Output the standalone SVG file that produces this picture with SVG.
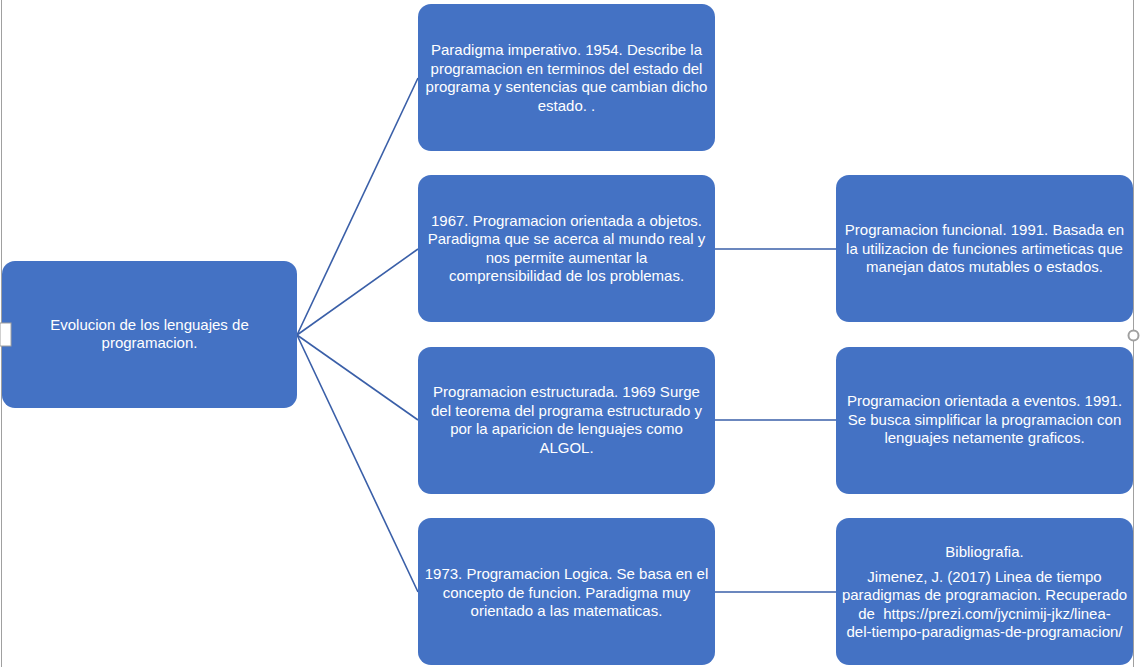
<svg xmlns="http://www.w3.org/2000/svg" width="1141" height="667" viewBox="0 0 1141 667">
<style>
.box{fill:#4472C4;}
.t{font-family:"Liberation Sans",Arial,sans-serif;font-size:15px;fill:#ffffff;text-anchor:middle;}
.c{stroke:#3A5FA8;stroke-width:1.6;fill:none;}
.frame{stroke:#A0A0A0;stroke-width:1;fill:none;}
</style>
<rect width="1141" height="667" fill="#ffffff"/>
<line class="frame" x1="1.5" y1="0" x2="1.5" y2="667"/>
<line class="frame" x1="1133.5" y1="0" x2="1133.5" y2="667"/>
<g id="connectors">
<line class="c" x1="297" y1="335" x2="418" y2="78"/>
<line class="c" x1="297" y1="335" x2="418" y2="249"/>
<line class="c" x1="297" y1="335" x2="418" y2="420"/>
<line class="c" x1="297" y1="335" x2="418" y2="592"/>
<line class="c" x1="715" y1="249" x2="836" y2="249"/>
<line class="c" x1="715" y1="420" x2="836" y2="420"/>
<line class="c" x1="715" y1="592" x2="836" y2="592"/>
</g>
<g id="root">
<rect class="box" x="2" y="261" width="295" height="147" rx="13"/>
<text class="t" x="149.5" y="330">Evolucion de los lenguajes de</text>
<text class="t" x="149.5" y="348">programacion.</text>
</g>
<g id="imperativo">
<rect class="box" x="418" y="4" width="297" height="147" rx="13"/>
<text class="t" x="566.5" y="55">Paradigma imperativo. 1954. Describe la</text>
<text class="t" x="566.5" y="73.5">programacion en terminos del estado del</text>
<text class="t" x="566.5" y="92">programa y sentencias que cambian dicho</text>
<text class="t" x="566.5" y="110.5">estado. .</text>
</g>
<g id="objetos">
<rect class="box" x="418" y="175" width="297" height="147" rx="13"/>
<text class="t" x="566.5" y="225.5">1967. Programacion orientada a objetos.</text>
<text class="t" x="566.5" y="244">Paradigma que se acerca al mundo real y</text>
<text class="t" x="566.5" y="262.5">nos permite aumentar la</text>
<text class="t" x="566.5" y="281">comprensibilidad de los problemas.</text>
</g>
<g id="estructurada">
<rect class="box" x="418" y="347" width="297" height="147" rx="13"/>
<text class="t" x="566.5" y="397">Programacion estructurada. 1969 Surge</text>
<text class="t" x="566.5" y="415.5">del teorema del programa estructurado y</text>
<text class="t" x="566.5" y="434">por la aparicion de lenguajes como</text>
<text class="t" x="566.5" y="452.5">ALGOL.</text>
</g>
<g id="logica">
<rect class="box" x="418" y="518" width="297" height="147" rx="13"/>
<text class="t" x="566.5" y="579">1973. Programacion Logica. Se basa en el</text>
<text class="t" x="566.5" y="597.5">concepto de funcion. Paradigma muy</text>
<text class="t" x="566.5" y="616">orientado a las matematicas.</text>
</g>
<g id="funcional">
<rect class="box" x="836" y="175" width="297" height="147" rx="13"/>
<text class="t" x="984.5" y="235">Programacion funcional. 1991. Basada en</text>
<text class="t" x="984.5" y="253.5">la utilizacion de funciones artimeticas que</text>
<text class="t" x="984.5" y="272">manejan datos mutables o estados.</text>
</g>
<g id="eventos">
<rect class="box" x="836" y="347" width="297" height="147" rx="13"/>
<text class="t" x="984.5" y="406">Programacion orientada a eventos. 1991.</text>
<text class="t" x="984.5" y="424.5">Se busca simplificar la programacion con</text>
<text class="t" x="984.5" y="443">lenguajes netamente graficos.</text>
</g>
<g id="bibliografia">
<rect class="box" x="836" y="518" width="297" height="147" rx="13"/>
<text class="t" x="984.5" y="556.5">Bibliografia.</text>
<text class="t" x="984.5" y="581.5">Jimenez, J. (2017) Linea de tiempo</text>
<text class="t" x="984.5" y="600">paradigmas de programacion. Recuperado</text>
<text class="t" x="984.5" y="618.5" xml:space="preserve">de  https://prezi.com/jycnimij-jkz/linea-</text>
<text class="t" x="984.5" y="637">del-tiempo-paradigmas-de-programacion/</text>
</g>
<rect x="0" y="323" width="11" height="23" fill="#ffffff" stroke="#A0A0A0" stroke-width="1"/>
<circle cx="1133.5" cy="335.5" r="5" fill="#ffffff" stroke="#A0A0A0" stroke-width="2"/>
</svg>
